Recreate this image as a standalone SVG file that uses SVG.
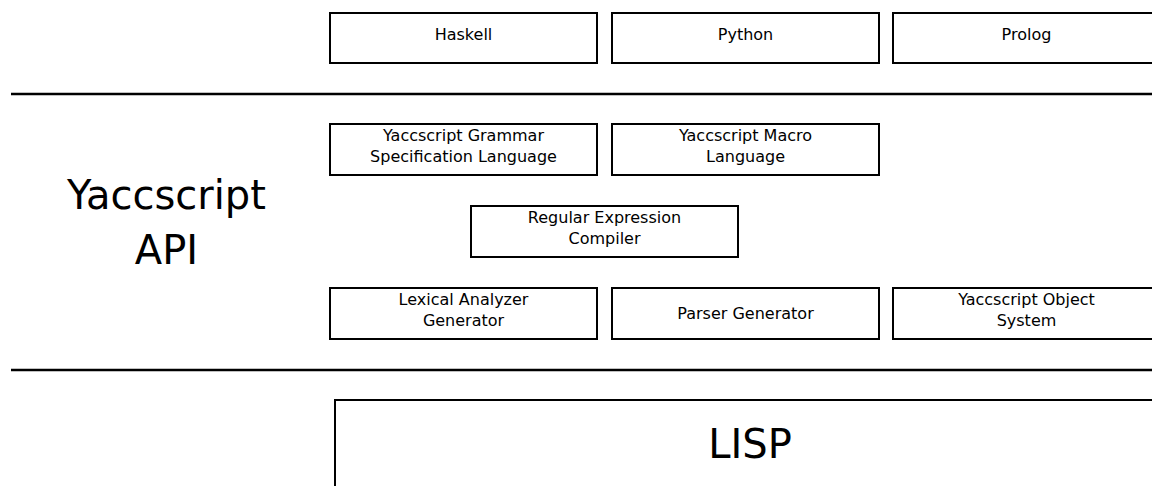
<svg xmlns="http://www.w3.org/2000/svg" width="1152" height="486" viewBox="0 0 1152 486">
<style>
.box{fill:#fff;stroke:#000;stroke-width:2}
.t{font-family:"DejaVu Sans",sans-serif;font-size:16px;fill:#000;text-anchor:middle}
.big{font-family:"DejaVu Sans",sans-serif;font-size:40px;fill:#000;text-anchor:middle}
.sep{stroke:#000;stroke-width:2.5}
</style>
<rect width="1152" height="486" fill="#fff"/>
<g id="separators">
<line class="sep" x1="11" y1="94" x2="1152" y2="94"/>
<line class="sep" x1="11" y1="370" x2="1152" y2="370"/>
</g>
<g id="haskell"><rect class="box" x="330" y="13" width="267" height="50"/><text class="t" x="463.5" y="40">Haskell</text></g>
<g id="python"><rect class="box" x="612" y="13" width="267" height="50"/><text class="t" x="745.5" y="40">Python</text></g>
<g id="prolog"><rect class="box" x="893" y="13" width="267" height="50"/><text class="t" x="1026.5" y="40">Prolog</text></g>
<g id="api-label"><text class="big" x="166.5" y="209">Yaccscript</text><text class="big" x="166.5" y="264">API</text></g>
<g id="grammar"><rect class="box" x="330" y="124" width="267" height="51"/><text class="t" x="463.5" y="141">Yaccscript Grammar</text><text class="t" x="463.5" y="162">Specification Language</text></g>
<g id="macro"><rect class="box" x="612" y="124" width="267" height="51"/><text class="t" x="745.5" y="141">Yaccscript Macro</text><text class="t" x="745.5" y="162">Language</text></g>
<g id="regex"><rect class="box" x="471" y="206" width="267" height="51"/><text class="t" x="604.5" y="223">Regular Expression</text><text class="t" x="604.5" y="244">Compiler</text></g>
<g id="lexer"><rect class="box" x="330" y="288" width="267" height="51"/><text class="t" x="463.5" y="305">Lexical Analyzer</text><text class="t" x="463.5" y="326">Generator</text></g>
<g id="parser"><rect class="box" x="612" y="288" width="267" height="51"/><text class="t" x="745.5" y="319">Parser Generator</text></g>
<g id="objects"><rect class="box" x="893" y="288" width="267" height="51"/><text class="t" x="1026.5" y="305">Yaccscript Object</text><text class="t" x="1026.5" y="326">System</text></g>
<g id="lisp"><rect class="box" x="335" y="400" width="830" height="200"/><text class="big" x="750" y="458">LISP</text></g>
<g id="connectors"></g>
</svg>
